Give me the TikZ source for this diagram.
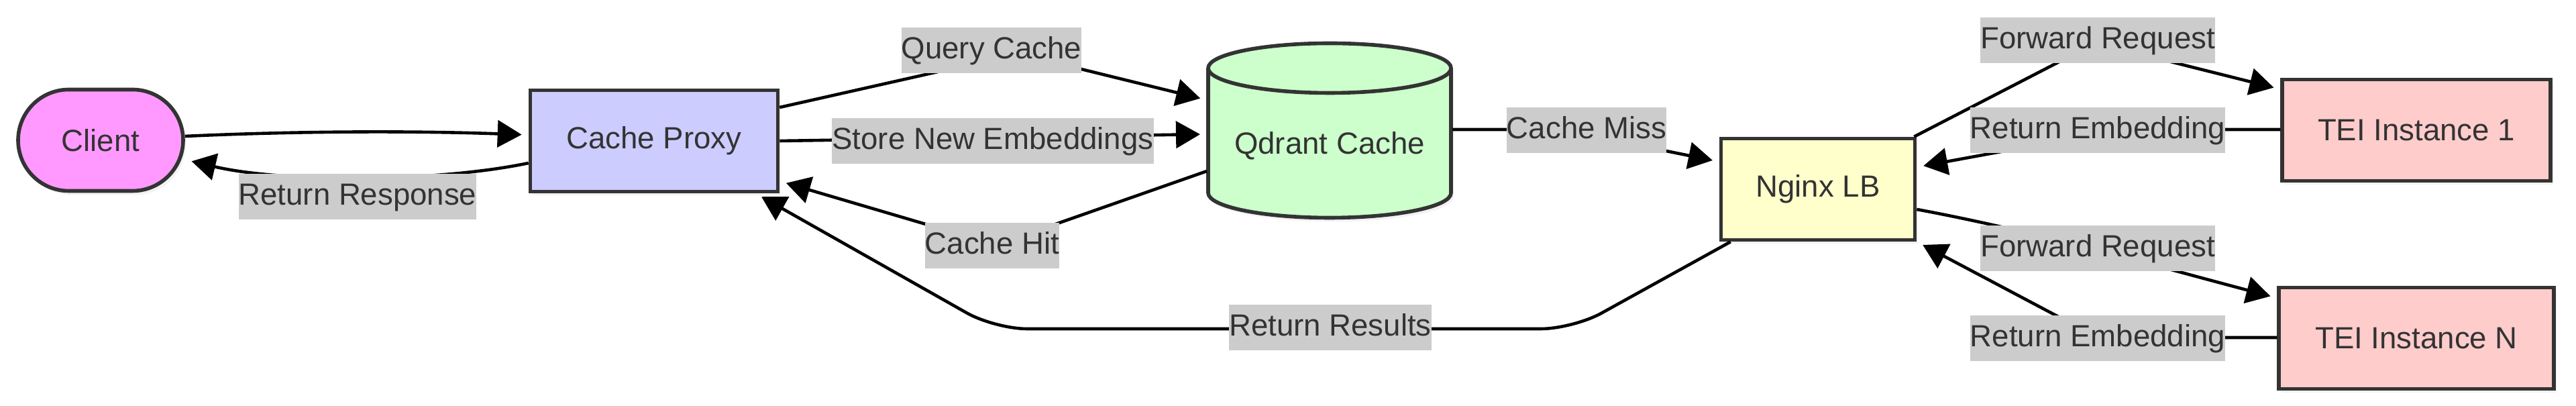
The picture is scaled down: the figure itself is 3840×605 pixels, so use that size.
\documentclass[tikz,border=0pt]{standalone}
\usepackage{fontspec}
\setmainfont{Liberation Sans}
\usetikzlibrary{arrows.meta,shadows}
\definecolor{txt}{HTML}{333333}
\definecolor{bord}{HTML}{333333}
\definecolor{lblbg}{HTML}{CCCCCC}
\definecolor{cpink}{HTML}{FF99FF}
\definecolor{cblue}{HTML}{CCCCFF}
\definecolor{cgreen}{HTML}{CCFFCC}
\definecolor{cyellow}{HTML}{FFFFCC}
\definecolor{cred}{HTML}{FFCCCC}
\begin{document}
\begin{tikzpicture}[x=0.25pt,y=-0.25pt,
  font=\fontsize{11.4}{13.7}\selectfont,
  shad/.style={drop shadow={shadow xshift=1pt, shadow yshift=-1.5pt, opacity=0.1}},
  box/.style={draw=bord, line width=1.4pt, text=txt, minimum height=37.75pt, inner sep=0pt, shad},
  lbl/.style={fill=lblbg, text=txt, inner xsep=0pt, inner ysep=0pt, minimum height=17pt, text height=8.6pt, text depth=2.4pt},
  arr/.style={line width=1.15pt, -{Triangle[length=9pt,width=10pt]}, shorten >=2.5pt, draw=black},
]
\useasboundingbox (0,0) rectangle (3840,605);

% nodes
\node[box, fill=cpink, rounded corners=18.875pt, minimum width=61.5pt] (cl) at (150,209) {Client};
\node[box, fill=cblue, minimum width=92.25pt] (cp) at (975,210) {Cache Proxy};
\node[box, fill=cyellow, minimum width=72.25pt] (lb) at (2710,282) {Nginx LB};
\node[box, fill=cred, minimum width=100pt] (t1) at (3602,194) {TEI Instance 1};
\node[box, fill=cred, minimum width=102.5pt] (tn) at (3602,504) {TEI Instance N};

% cylinder
\path[fill=cgreen, draw=bord, line width=1.4pt, shad]
  (1801,101.5) -- (1801,287.5)
  arc[start angle=180, end angle=360, x radius=45.25pt, y radius=9.25pt]
  -- (2163,101.5)
  arc[start angle=0, end angle=180, x radius=45.25pt, y radius=9.25pt] -- cycle;
\draw[draw=bord, line width=1.4pt] (1801,101.5)
  arc[start angle=180, end angle=360, x radius=45.25pt, y radius=9.25pt];
\node[minimum width=91.5pt, minimum height=66.25pt, inner sep=0pt, outer sep=0pt] (qd) at (1982,195) {};
\node[text=txt, inner sep=0pt] (qdt) at (1982,217) {Qdrant Cache};

% edges
\draw[arr] ([yshift=1.5pt]cl.east) .. controls (450,195) and (620,195) .. ([yshift=2.25pt]cp.west);
\draw[arr] ([yshift=-8.25pt]cp.west) .. controls (650,272) and (420,272) .. ([yshift=-7.25pt]cl.east);
\draw[arr, rounded corners=15pt] ([yshift=12.5pt]cp.east) -- (1518,80) -- ([yshift=11.5pt]qd.west);
\draw[arr] (cp.east) -- ([yshift=-1.25pt]qd.west);
\draw[arr, rounded corners=15pt] ([yshift=-15pt]qd.west) -- (1485,365) -- ([yshift=-15pt]cp.east);
\draw[arr, rounded corners=10pt] ([yshift=0.5pt]qd.east) -- (2326,193) -- ([yshift=10.25pt]lb.west);
\draw[arr, rounded corners=15pt] ([xshift=-1pt]lb.north east) -- (3124,64) -- ([yshift=15.25pt]t1.west);
\draw[arr, rounded corners=10pt] ([yshift=0.25pt]t1.west) -- (3163,193) -- ([yshift=8.25pt]lb.east);
\draw[arr] ([yshift=-7.5pt]lb.east) .. controls (3035,345) and (3205,394) .. ([yshift=15pt]tn.west);
\draw[arr, rounded corners=10pt] ([yshift=0.25pt]tn.west) -- (3127,503) -- (lb.south east);
\draw[arr, rounded corners=12pt] ([xshift=4.25pt]lb.south west) -- (2345,490) -- (1483,490) -- ([xshift=-9pt]cp.south east);

% labels
\node[lbl] (l1) at (533,293) {Return Response};
\node[lbl] (l2) at (1478,75) {Query Cache};
\node[lbl] (l3) at (1480,210) {Store New Embeddings};
\node[lbl] (l4) at (1479,366) {Cache Hit};
\node[lbl] (l5) at (2365,194) {Cache Miss};
\node[lbl] (l6) at (1983,488) {Return Results};
\node[lbl] (l7) at (3127,60) {Forward Request};
\node[lbl] (l8) at (3127,194) {Return Embedding};
\node[lbl] (l9) at (3127,370) {Forward Request};
\node[lbl] (l10) at (3127,504) {Return Embedding};
\end{tikzpicture}
\end{document}
